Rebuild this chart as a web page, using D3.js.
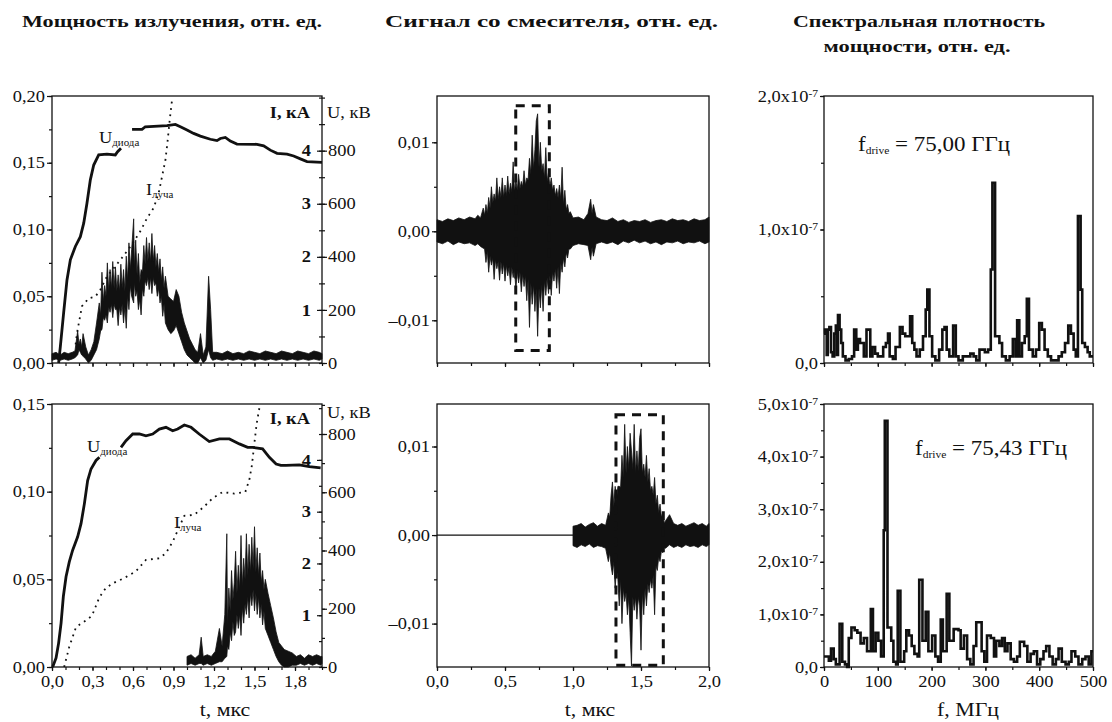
<!DOCTYPE html>
<html>
<head>
<meta charset="utf-8">
<script src="https://cdnjs.cloudflare.com/ajax/libs/d3/7.8.5/d3.min.js"></script>
<style>
  body { margin: 0; background: #fff; }
  svg text { font-family: "Liberation Serif", "Times New Roman", "DejaVu Serif", serif; fill: #111; }
</style>
</head>
<body>
<script>
// ---------- data ----------
// panel 1, top: radiated power [t, lo, hi] (rel. units)
var powerTop = [
  [0.00,0.002,0.007],[0.03,0.003,0.008],[0.06,0.002,0.006],[0.09,0.003,0.008],[0.12,0.002,0.007],
  [0.15,0.003,0.008],[0.17,0.004,0.009],[0.19,0.006,0.024],[0.20,0.010,0.014],[0.21,0.008,0.018],
  [0.22,0.006,0.012],[0.23,0.005,0.022],[0.25,0.003,0.012],[0.27,0.000,0.006],[0.29,0.002,0.010],
  [0.31,0.006,0.016],[0.33,0.010,0.030],[0.35,0.018,0.045],[0.36,0.024,0.036],[0.37,0.025,0.068],
  [0.38,0.034,0.046],[0.39,0.032,0.058],[0.40,0.036,0.050],[0.41,0.030,0.075],[0.42,0.042,0.054],
  [0.43,0.038,0.070],[0.44,0.044,0.056],[0.45,0.034,0.076],[0.46,0.044,0.056],[0.47,0.040,0.072],
  [0.48,0.040,0.054],[0.49,0.028,0.066],[0.50,0.042,0.054],[0.51,0.036,0.074],[0.52,0.044,0.056],
  [0.53,0.030,0.070],[0.54,0.042,0.054],[0.55,0.026,0.080],[0.56,0.050,0.062],[0.57,0.040,0.090],
  [0.58,0.058,0.070],[0.59,0.050,0.085],[0.605,0.045,0.108],[0.61,0.060,0.072],[0.62,0.050,0.092],
  [0.63,0.054,0.066],[0.64,0.040,0.082],[0.65,0.048,0.060],[0.66,0.036,0.070],[0.67,0.056,0.068],
  [0.68,0.050,0.088],[0.69,0.062,0.074],[0.70,0.058,0.094],[0.71,0.064,0.076],[0.72,0.055,0.090],
  [0.73,0.064,0.076],[0.74,0.052,0.097],[0.75,0.064,0.076],[0.76,0.058,0.088],[0.77,0.060,0.072],
  [0.78,0.050,0.082],[0.79,0.056,0.068],[0.80,0.045,0.078],[0.81,0.050,0.062],[0.82,0.035,0.072],
  [0.83,0.044,0.056],[0.84,0.030,0.065],[0.86,0.025,0.050],[0.88,0.022,0.048],[0.90,0.024,0.046],
  [0.92,0.028,0.055],[0.94,0.022,0.050],[0.96,0.016,0.038],[0.98,0.010,0.030],[1.00,0.006,0.024],
  [1.02,0.004,0.018],[1.04,0.002,0.014],[1.06,0.000,0.010],[1.08,0.000,0.008],[1.10,0.004,0.022],
  [1.12,0.000,0.006],[1.14,0.002,0.012],[1.16,0.010,0.065],[1.175,0.004,0.040],[1.19,0.002,0.008],
  [1.22,0.003,0.008],[1.26,0.002,0.007],[1.30,0.003,0.009],[1.34,0.002,0.007],[1.38,0.003,0.008],
  [1.42,0.002,0.007],[1.46,0.003,0.009],[1.50,0.002,0.008],[1.54,0.003,0.007],[1.58,0.002,0.009],
  [1.62,0.003,0.008],[1.66,0.002,0.007],[1.70,0.003,0.009],[1.74,0.002,0.008],[1.78,0.003,0.007],
  [1.82,0.002,0.009],[1.86,0.003,0.008],[1.90,0.002,0.007],[1.94,0.003,0.009],[1.98,0.002,0.008],
  [2.00,0.003,0.007]
];
// diode voltage [t, kV] (null = gap under the label)
var voltTop = [
  [0.049,0],[0.062,63],[0.086,188],[0.111,313],[0.136,389],[0.173,439],[0.21,476],[0.235,527],
  [0.259,602],[0.284,690],[0.309,746],[0.346,784],[0.407,787],[0.469,784],[0.486,796],[0.511,809],
  [0.55,null],[0.593,880],[0.667,880],[0.691,890],[0.852,894],[0.914,899],[0.951,890],[1.0,878],
  [1.049,865],[1.099,855],[1.173,843],[1.222,838],[1.247,846],[1.284,850],[1.321,836],[1.37,825],
  [1.519,824],[1.568,818],[1.617,802],[1.667,790],[1.741,787],[1.79,780],[1.84,769],[1.889,759],[2.0,756]
];
// beam current [t, kA]
var currTop = [
  [0.175,0.35],[0.185,0.56],[0.222,1.07],[0.272,1.22],[0.321,1.25],[0.358,1.38],[0.407,1.63],
  [0.506,1.94],[0.58,2.19],[0.654,2.48],[0.704,2.73],[0.753,2.92],[0.79,3.2],[0.815,3.51],
  [0.84,3.82],[0.857,4.2],[0.872,4.58],[0.889,4.95]
];

// panel 1, bottom
var powerBot = [
  [1.00,0.001,0.006],[1.03,0.002,0.007],[1.06,0.001,0.005],[1.09,0.002,0.007],[1.105,0.002,0.017],
  [1.12,0.001,0.006],[1.15,0.002,0.007],[1.18,0.001,0.006],[1.21,0.002,0.009],[1.24,0.003,0.022],
  [1.26,0.003,0.012],[1.28,0.005,0.030],[1.295,0.006,0.076],[1.30,0.012,0.024],[1.31,0.010,0.045],
  [1.32,0.020,0.032],[1.33,0.015,0.055],[1.34,0.026,0.038],[1.35,0.018,0.048],[1.36,0.020,0.066],
  [1.37,0.030,0.042],[1.38,0.022,0.058],[1.39,0.030,0.044],[1.40,0.018,0.075],[1.41,0.034,0.046],
  [1.42,0.025,0.062],[1.43,0.036,0.050],[1.44,0.030,0.076],[1.45,0.040,0.052],[1.46,0.028,0.070],
  [1.47,0.042,0.054],[1.48,0.035,0.074],[1.49,0.044,0.056],[1.50,0.032,0.080],[1.51,0.042,0.054],
  [1.52,0.030,0.068],[1.53,0.040,0.052],[1.54,0.028,0.065],[1.55,0.036,0.048],[1.56,0.024,0.055],
  [1.57,0.032,0.044],[1.58,0.022,0.050],[1.60,0.018,0.042],[1.62,0.014,0.035],[1.64,0.010,0.028],
  [1.66,0.006,0.020],[1.68,0.003,0.014],[1.70,0.001,0.012],[1.72,0.000,0.010],[1.75,0.000,0.009],
  [1.78,0.001,0.008],[1.81,0.001,0.006],[1.84,0.002,0.007],[1.87,0.001,0.005],[1.90,0.002,0.007],
  [1.93,0.001,0.006],[1.96,0.002,0.007],[1.99,0.001,0.006],[2.00,0.002,0.006]
];
var voltBot = [
  [0.005,0],[0.03,31],[0.049,82],[0.067,150],[0.084,242],[0.104,310],[0.128,361],[0.153,401],
  [0.19,447],[0.215,492],[0.24,561],[0.264,640],[0.289,680],[0.326,709],[0.351,720],[0.43,null],
  [0.511,754],[0.548,777],[0.598,800],[0.647,800],[0.696,794],[0.746,800],[0.795,817],[0.844,823],
  [0.894,811],[0.931,817],[0.98,831],[1.03,823],[1.09,800],[1.165,774],[1.24,783],[1.314,783],
  [1.388,766],[1.449,754],[1.486,754],[1.56,749],[1.61,720],[1.66,697],[1.696,692],[1.733,692],
  [1.832,694],[1.906,688],[1.99,684]
];
var currBot = [
  [0.09,0],[0.128,0.39],[0.178,0.77],[0.252,0.9],[0.296,0.99],[0.35,1.34],[0.4,1.53],[0.462,1.63],
  [0.536,1.72],[0.622,1.85],[0.696,2.07],[0.795,2.1],[0.844,2.2],[0.894,2.42],[0.98,2.92],
  [1.054,2.94],[1.128,3.1],[1.19,3.26],[1.264,3.38],[1.35,3.35],[1.432,3.38],[1.462,3.62],
  [1.481,3.9],[1.499,4.32],[1.516,4.7],[1.536,5.0]
];

// panel 2: mixer signal [t, lo, hi] in 1e-3 rel. units
var mixTop = [
  [0.00,-1.2,1.3],[0.04,-1.4,1.1],[0.08,-1.1,1.4],[0.12,-1.5,1.2],[0.16,-1.2,1.5],[0.20,-1.4,1.3],
  [0.24,-1.3,1.6],[0.28,-1.6,1.4],[0.30,-1.4,1.8],[0.32,-1.7,1.5],
  [0.34,-1.9,2.6],[0.35,-2.0,1.8],[0.36,-3.5,3.0],[0.37,-2.2,2.0],[0.38,-4.6,3.8],[0.39,-2.8,2.6],
  [0.40,-3.8,5.0],[0.41,-3.0,3.2],[0.42,-5.4,4.2],[0.43,-3.2,3.4],[0.44,-4.2,6.0],[0.45,-3.4,3.6],
  [0.46,-5.5,5.0],[0.47,-3.4,3.8],[0.48,-4.8,6.0],[0.49,-3.6,3.8],[0.50,-5.6,5.2],[0.51,-3.8,4.0],
  [0.52,-5.0,6.2],[0.53,-4.0,4.2],[0.54,-6.0,5.4],[0.55,-4.0,4.4],[0.56,-5.2,7.8],[0.57,-4.2,4.4],
  [0.58,-6.6,5.8],[0.59,-4.4,4.6],[0.60,-5.8,6.4],[0.61,-4.6,4.8],[0.62,-6.8,5.6],[0.63,-4.8,5.0],
  [0.64,-6.2,6.8],[0.65,-5.0,5.2],[0.66,-7.8,6.0],[0.67,-5.4,5.8],[0.68,-10.8,8.2],[0.69,-5.8,6.4],
  [0.70,-8.2,10.8],[0.71,-6.0,7.0],[0.72,-9.0,9.2],[0.73,-6.4,12.4],[0.74,-11.8,13.2],[0.75,-6.4,7.2],
  [0.76,-8.6,10.0],[0.77,-6.0,6.8],[0.78,-9.0,7.6],[0.79,-5.6,6.0],[0.80,-7.2,9.4],[0.81,-5.2,5.6],
  [0.82,-7.0,6.6],[0.83,-5.0,5.0],[0.84,-7.2,6.0],[0.85,-4.6,4.6],[0.86,-5.6,5.2],[0.87,-4.2,4.0],
  [0.88,-6.4,4.8],[0.89,-4.0,3.8],[0.90,-7.0,5.2],[0.91,-3.6,3.6],[0.92,-4.6,7.2],[0.93,-3.0,3.0],
  [0.94,-4.0,4.6],[0.95,-2.4,2.4],[0.96,-3.0,3.0],[0.97,-2.0,2.0],[0.98,-2.0,2.2],
  [1.00,-1.6,1.5],[1.04,-1.4,1.6],[1.08,-1.5,1.3],[1.11,-1.6,2.0],[1.13,-3.2,3.6],[1.14,-1.8,2.0],
  [1.15,-2.8,3.0],[1.17,-1.4,1.6],[1.21,-1.2,1.3],[1.25,-1.4,1.2],[1.29,-1.2,1.5],[1.33,-1.5,1.1],
  [1.37,-1.1,1.3],[1.41,-1.3,1.0],[1.45,-1.0,1.2],[1.49,-1.3,1.1],[1.53,-1.1,1.3],[1.57,-1.4,1.0],
  [1.61,-1.2,1.2],[1.65,-1.5,1.3],[1.69,-1.2,1.1],[1.73,-1.3,1.4],[1.77,-1.1,1.2],[1.81,-1.4,1.3],
  [1.85,-1.2,1.1],[1.89,-1.3,1.4],[1.93,-1.1,1.2],[1.97,-1.4,1.3],[2.00,-1.2,1.6]
];
var mixBotFlat = [[0.0, 0], [1.0, 0]];
var mixBot = [
  [1.00,-1.2,1.0],[1.03,-1.4,1.1],[1.06,-1.1,1.3],[1.09,-1.3,0.9],[1.12,-1.0,1.2],[1.15,-1.4,1.4],
  [1.18,-1.2,1.0],[1.21,-1.3,1.3],[1.24,-1.5,1.1],
  [1.26,-3.0,2.5],[1.27,-2.0,2.0],[1.28,-3.5,4.5],[1.29,-4.5,6.0],[1.30,-3.0,3.2],[1.31,-6.0,5.5],
  [1.32,-3.8,4.0],[1.33,-5.0,5.5],[1.34,-8.0,5.5],[1.35,-5.0,5.4],[1.36,-10.0,9.0],[1.37,-6.0,6.5],
  [1.38,-7.5,12.5],[1.39,-6.5,7.0],[1.40,-9.0,10.0],[1.41,-7.0,7.5],[1.42,-11.0,11.5],[1.43,-14.8,9.5],
  [1.44,-7.0,7.5],[1.45,-8.5,12.5],[1.46,-7.0,7.0],[1.47,-9.5,9.5],[1.48,-7.0,7.2],[1.49,-8.0,11.0],
  [1.50,-13.0,12.0],[1.51,-6.5,7.0],[1.52,-9.0,8.0],[1.53,-6.0,6.5],[1.54,-8.0,9.0],[1.55,-5.5,6.0],
  [1.56,-6.5,7.5],[1.57,-5.0,5.0],[1.58,-6.0,5.5],[1.59,-4.5,4.5],[1.60,-9.0,6.5],[1.61,-3.5,3.5],
  [1.62,-4.0,4.5],[1.63,-2.5,2.5],[1.64,-3.0,3.5],[1.65,-1.8,2.0],[1.66,-2.0,2.5],[1.67,-1.4,1.4],
  [1.68,-1.5,1.6],
  [1.71,-1.1,2.3],[1.74,-1.4,1.3],[1.77,-1.2,1.1],[1.80,-1.4,1.3],[1.83,-1.1,1.0],[1.86,-1.3,1.2],
  [1.89,-1.2,1.4],[1.92,-1.4,1.1],[1.95,-1.1,1.3],[1.98,-1.3,1.0],[2.00,-1.1,1.3]
];
// dashed windows [t0, t1, lo, hi] (1e-3 units)
var boxTop = [0.579, 0.826, -13.4, 14.1];
var boxBot = [1.316, 1.664, -14.7, 13.6];

// panel 3: power spectral density [f MHz, 1e-7 rel. units]
var specTop = [
  [0,0.22],[2,0.25],[5,0.06],[7,0.25],[10,0.27],[13,0.08],[16,0.05],[19,0.22],[22,0.28],[24,0.06],
  [26,0.36],[29,0.25],[32,0.15],[35,0.05],[40,0.02],[46,0.03],[52,0.05],[56,0.25],[60,0.1],[63,0.18],
  [67,0.15],[70,0.15],[74,0.05],[79,0.25],[83,0.25],[86,0.05],[90,0.12],[95,0.07],[100,0.05],[105,0.05],
  [110,0.12],[115,0.15],[119,0.22],[122,0.05],[128,0.03],[133,0.12],[138,0.12],[141,0.27],[146,0.22],
  [151,0.2],[156,0.2],[160,0.35],[164,0.15],[168,0.1],[172,0.05],[178,0.1],[184,0.2],[189,0.4],
  [192,0.55],[196,0.2],[201,0.05],[207,0.02],[214,0.1],[220,0.25],[224,0.27],[228,0.1],[233,0.05],
  [237,0.05],[240,0.28],[245,0.05],[250,0.02],[258,0.05],[266,0.05],[272,0.07],[278,0.05],[283,0.02],
  [289,0.1],[299,0.08],[305,0.1],[310,0.7],[313,1.35],[318,0.2],[326,0.15],[331,0.05],[338,0.02],
  [345,0.05],[351,0.18],[356,0.05],[359,0.32],[363,0.05],[368,0.15],[373,0.2],[377,0.48],[381,0.1],
  [388,0.05],[394,0.1],[400,0.3],[405,0.25],[410,0.1],[416,0.05],[422,0.02],[430,0.02],[436,0.05],
  [442,0.08],[448,0.15],[454,0.28],[459,0.22],[464,0.1],[468,0.05],[472,1.1],[477,0.55],[480,0.15],
  [485,0.12],[490,0.08],[494,0.05],[500,0.05]
];
var specBot = [
  [0,0.2],[6,0.2],[9,0.12],[13,0.35],[18,0.15],[22,0.05],[27,0.05],[29,0.82],[34,0.1],[39,0.05],
  [43,0.0],[46,0.55],[51,0.75],[57,0.7],[62,0.65],[68,0.45],[74,0.55],[80,0.3],[86,0.3],[87,1.1],
  [91,0.3],[96,0.65],[101,0.5],[106,0.2],[111,2.6],[113,4.68],[118,0.75],[125,0.5],[129,0.1],
  [134,0.05],[137,1.45],[142,0.1],[149,0.3],[153,0.7],[158,0.6],[163,0.4],[168,0.25],[174,0.2],
  [177,1.66],[183,0.5],[189,1.05],[194,0.3],[201,0.6],[207,0.2],[212,0.1],[217,0.9],[221,0.3],
  [228,1.39],[233,0.5],[241,0.72],[250,0.7],[254,0.35],[260,0.6],[266,0.15],[272,0.05],[278,0.4],
  [283,0.85],[293,0.3],[298,0.1],[303,0.6],[310,0.55],[316,0.2],[320,0.5],[326,0.4],[331,0.55],
  [336,0.3],[341,0.45],[347,0.15],[353,0.1],[359,0.2],[364,0.48],[372,0.4],[378,0.1],[384,0.25],
  [390,0.3],[396,0.05],[402,0.15],[408,0.3],[413,0.4],[419,0.2],[425,0.05],[431,0.15],[436,0.35],
  [442,0.1],[449,0.05],[455,0.1],[460,0.3],[467,0.2],[473,0.05],[480,0.15],[486,0.2],[492,0.05],
  [497,0.3],[500,0.3]
];

// tick values
var powerTicksTop = [0, 0.05, 0.10, 0.15, 0.20];
var powerTicksBot = [0, 0.05, 0.10, 0.15];
var voltTicks = [0, 200, 400, 600, 800];
var currTicks = [1, 2, 3, 4];
var timeTicks1 = [0, 0.3, 0.6, 0.9, 1.2, 1.5, 1.8];
var timeTicks2 = [0, 0.5, 1.0, 1.5, 2.0];
var mixTicks = [-0.01, 0, 0.01];
var freqTicks = [0, 100, 200, 300, 400, 500];
var specTicksTop = [0, 1, 2];
var specTicksBot = [0, 1, 2, 3, 4, 5];

// ---------- layout ----------
var W = 1112, H = 722, ink = "#111";
var cols = [[52, 322], [437, 709], [824, 1093]];
var rows = [[96, 363], [404, 667]];

var svg = d3.select("body").append("svg").attr("width", W).attr("height", H);

function comma(spec) {
  var f = d3.format(spec);
  return function (d) { return f(d).replace(".", ",").replace(/[-\u2212]/, "\u2013"); };
}

function frame(x, y) {
  var xr = x.range(), yr = y.range();
  svg.append("rect")
    .attr("x", xr[0]).attr("y", yr[1])
    .attr("width", xr[1] - xr[0]).attr("height", yr[0] - yr[1])
    .attr("fill", "none").attr("stroke", ink).attr("stroke-width", 1.3);
}

function axis(gen, scale, major, minor, fmt, tx, ty, size, pad) {
  var gm = svg.append("g").attr("transform", "translate(" + tx + "," + ty + ")")
    .call(gen(scale).tickValues(minor).tickSize(3).tickFormat(""));
  var g = svg.append("g").attr("transform", "translate(" + tx + "," + ty + ")")
    .call(gen(scale).tickValues(major).tickSize(size || 5).tickPadding(pad == null ? 3 : pad)
      .tickFormat(fmt || ""));
  [gm, g].forEach(function (a) {
    a.attr("font-family", null).attr("font-size", null);
    a.select(".domain").remove();
    a.selectAll("line").attr("stroke", ink).attr("stroke-width", 1.2);
    a.selectAll("text").attr("fill", ink).style("font-size", "16px");
  });
  return g;
}

function noise(x, y, data, k) {
  var area = d3.area()
    .x(function (d) { return x(d[0]); })
    .y0(function (d) { return y(d[1] * k); })
    .y1(function (d) { return y(d[2] * k); });
  svg.append("path").datum(data).attr("d", area)
    .attr("fill", ink).attr("stroke", ink).attr("stroke-width", 0.8);
}

function curve(x, y, data, width, dash, shape) {
  var line = d3.line()
    .defined(function (d) { return d[1] != null; })
    .x(function (d) { return x(d[0]); })
    .y(function (d) { return y(d[1]); });
  if (shape) line.curve(shape);
  svg.append("path").datum(data).attr("d", line)
    .attr("fill", "none").attr("stroke", ink).attr("stroke-width", width)
    .attr("stroke-dasharray", dash || null).attr("stroke-linejoin", "miter");
}

function label(x, y, main, sub, size, subSize, anchor) {
  var t = svg.append("text").attr("x", x).attr("y", y)
    .style("font-size", size + "px").attr("text-anchor", anchor || "start");
  t.append("tspan").text(main);
  t.append("tspan").attr("dy", 3).style("font-size", subSize + "px").text(sub);
  return t;
}

function text(x, y, s, size, bold, anchor) {
  return svg.append("text").attr("x", x).attr("y", y).text(s)
    .style("font-size", size + "px").style("font-weight", bold ? "bold" : "normal")
    .attr("text-anchor", anchor || "start");
}

// ---------- titles ----------
var titles = [
  text(22, 27, "Мощность излучения, отн. ед.", 17.5, true).attr("data-w", 300),
  text(385, 27, "Сигнал со смесителя, отн. ед.", 17.5, true).attr("data-w", 333),
  text(919, 27, "Спектральная плотность", 17.5, true, "middle").attr("data-w", 252),
  text(917, 52, "мощности, отн. ед.", 17.5, true, "middle").attr("data-w", 187)
];

// ---------- panel 1 ----------
[
  { r: rows[0], pMax: 0.2, pTicks: powerTicksTop, uMax: 1006, iMax: 5.03, power: powerTop, volt: voltTop, curr: currTop,
    uLab: [99, 143], iLab: [146, 195], unitY: [118, 118], labels: false },
  { r: rows[1], pMax: 0.15, pTicks: powerTicksBot, uMax: 903, iMax: 5.08, power: powerBot, volt: voltBot, curr: currBot,
    uLab: [87, 452], iLab: [174, 528], unitY: [418, 424], labels: true }
].forEach(function (p) {
  var c = cols[0];
  var x = d3.scaleLinear().domain([0, 2]).range(c);
  var y = d3.scaleLinear().domain([0, p.pMax]).range([p.r[1], p.r[0]]);
  var yu = d3.scaleLinear().domain([0, p.uMax]).range([p.r[1], p.r[0]]);
  var yi = d3.scaleLinear().domain([0, p.iMax]).range([p.r[1], p.r[0]]);

  noise(x, y, p.power, 1);
  curve(x, yu, p.volt, 2.8);
  curve(x, yi, p.curr, 1.8, "1.8,4.6");
  frame(x, y);

  axis(d3.axisBottom, x, timeTicks1, d3.range(0, 2.001, 0.1), p.labels ? comma(".1f") : null, 0, p.r[1], 4, 5);
  axis(d3.axisLeft, y, p.pTicks, d3.range(0, p.pMax + 0.001, 0.025), comma(".2f"), c[0], 0, 5, 2);
  axis(d3.axisRight, yu, voltTicks, d3.range(0, p.uMax, 100), d3.format("d"), c[1], 0, 5, 1);
  axis(d3.axisLeft, yi, currTicks, d3.range(0, p.iMax, 0.5), d3.format("d"), c[1], 0, 5, 6)
    .selectAll("text").style("font-weight", "bold");

  label(p.uLab[0], p.uLab[1], "U", "диода", 16, 9.5);
  label(p.iLab[0], p.iLab[1], "I", "луча", 16, 9.5);
  text(310, p.unitY[1], "I, кА", 16, true, "end");
  text(327, p.unitY[0], "U, кВ", 16, false);
});
text(225, 716, "t, мкс", 19, false, "middle");

// ---------- panel 2 ----------
[
  { r: rows[0], dom: [-0.0148, 0.0152], sig: mixTop, box: boxTop, flat: null, labels: false },
  { r: rows[1], dom: [-0.0149, 0.0148], sig: mixBot, box: boxBot, flat: mixBotFlat, labels: true }
].forEach(function (p) {
  var c = cols[1];
  var x = d3.scaleLinear().domain([0, 2]).range(c);
  var y = d3.scaleLinear().domain(p.dom).range([p.r[1], p.r[0]]);
  var ym = d3.scaleLinear().domain([p.dom[0] * 1000, p.dom[1] * 1000]).range([p.r[1], p.r[0]]);

  if (p.flat) curve(x, ym, p.flat, 1.2);
  noise(x, ym, p.sig, 1);
  svg.append("rect")
    .attr("x", x(p.box[0])).attr("y", ym(p.box[3]))
    .attr("width", x(p.box[1]) - x(p.box[0])).attr("height", ym(p.box[2]) - ym(p.box[3]))
    .attr("fill", "none").attr("stroke", ink).attr("stroke-width", 3).attr("stroke-dasharray", "9,7");
  frame(x, y);

  axis(d3.axisBottom, x, timeTicks2, d3.range(0, 2.001, 0.25), p.labels ? comma(".1f") : null, 0, p.r[1], 4, 5);
  axis(d3.axisLeft, y, mixTicks, [-0.01, -0.005, 0, 0.005, 0.01], comma(".2f"), c[0], 0, 5, 2);
});
text(590, 716, "t, мкс", 19, false, "middle");

// ---------- panel 3 ----------
[
  { r: rows[0], max: 2, ticks: specTicksTop, spec: specTop, labels: false, ann: [858, 151, "75,00"] },
  { r: rows[1], max: 5, ticks: specTicksBot, spec: specBot, labels: true, ann: [915, 455, "75,43"] }
].forEach(function (p) {
  var c = cols[2];
  var x = d3.scaleLinear().domain([0, 500]).range(c);
  var y = d3.scaleLinear().domain([0, p.max]).range([p.r[1], p.r[0]]);

  curve(x, y, p.spec, 2.6, null, d3.curveStepAfter);
  frame(x, y);

  axis(d3.axisBottom, x, freqTicks, d3.range(0, 501, 50), p.labels ? d3.format("d") : null, 0, p.r[1], 4, 5);
  var g = axis(d3.axisLeft, y, p.ticks, d3.range(0, p.max + 0.01, 0.5), d3.format("d"), c[0], 0, 4, 2);
  g.selectAll("text").each(function (d) {
    var t = d3.select(this).text("");
    if (d === 0) { t.text("0,0"); return; }
    t.append("tspan").text(d + ",0x10");
    t.append("tspan").attr("dy", "-0.5em").style("font-size", "10px").text("-7");
  });

  var a = label(p.ann[0], p.ann[1], "f", "drive", 20, 10);
  a.append("tspan").attr("dy", -3).text(" = " + p.ann[2] + " ГГц");
});
text(968, 716, "f, МГц", 19, false, "middle");

// the original figure is drawn a little wide: stretch the glyphs to match
svg.selectAll("text").each(function () {
  var el = d3.select(this), len = this.getComputedTextLength();
  if (!len) return;
  var w = el.attr("data-w");
  el.attr("textLength", w ? +w : len * 1.15).attr("lengthAdjust", "spacingAndGlyphs");
});
</script>
</body>
</html>
